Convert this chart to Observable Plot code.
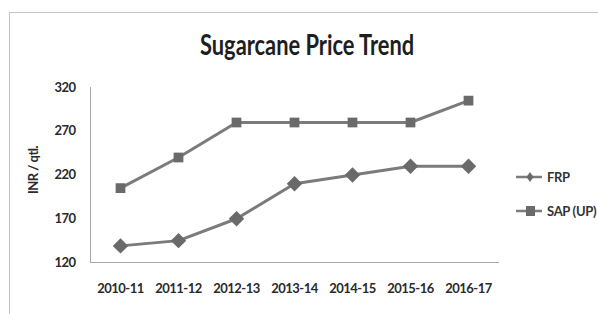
<!DOCTYPE html>
<html><head><meta charset="utf-8">
<script src="https://cdn.jsdelivr.net/npm/d3@7"></script>
<script src="https://cdn.jsdelivr.net/npm/@observablehq/plot@0.6"></script>
<style>
body{margin:0;background:#fff;}
#wrap{position:relative;width:598px;height:314px;overflow:hidden;font-family:Lato,"Open Sans",sans-serif;}
#border{position:absolute;left:9px;top:12px;width:620px;height:330px;border:1px solid #c4c4c4;}
#title{position:absolute;left:200px;top:27px;white-space:nowrap;font-size:28px;font-weight:bold;color:#1e1e1e;transform:scaleX(0.78);transform-origin:0 0;}
#chart{position:absolute;left:0;top:0;}
#legend{position:absolute;left:512px;top:167px;font-size:13px;font-weight:bold;color:#333;white-space:nowrap;letter-spacing:-0.3px;}
.li{display:flex;align-items:center;height:20px;margin-bottom:14px;}
.li svg{margin-right:3px;}
</style></head>
<body>
<div id="wrap"><div id="border"></div><div id="chart"></div><div id="title">Sugarcane Price Trend</div><div id="legend"></div></div>
<script>
const years = ["2010-11","2011-12","2012-13","2013-14","2014-15","2015-16","2016-17"];
const frp = [139,145,170,210,220,230,230];
const sap = [205,240,280,280,280,280,305];
const yTicks = [120,170,220,270,320];
const seriesNames = ["FRP","SAP (UP)"];

const data = [];
years.forEach((y,i)=>{data.push({year:y,value:frp[i],series:seriesNames[0]});data.push({year:y,value:sap[i],series:seriesNames[1]});});

const lineColor = "#7b7b7b", markColor = "#6a6a6a";
const font = 'Lato,"Open Sans",sans-serif';

const chart = Plot.plot({
  width:598, height:314,
  marginLeft:90, marginRight:100, marginTop:87, marginBottom:52,
  style:{fontFamily:font, fontSize:"13px", fontWeight:"bold", color:"#2a2a2a", background:"transparent", letterSpacing:"-0.5px"},
  x:{type:"point", domain:years, padding:0.5, label:null},
  y:{domain:[120,320], ticks:yTicks, label:null},
  marks:[
    Plot.frame({anchor:"left", stroke:"#a8a8a8"}),
    Plot.frame({anchor:"bottom", stroke:"#a8a8a8"}),
    Plot.axisY({ticks:yTicks, tickSize:0, tickPadding:15, tickFormat:d=>String(d), fontSize:13, label:null}),
    Plot.axisX({tickSize:0, tickPadding:21, fontSize:13, label:null}),
    Plot.text(["INR / qtl."], {frameAnchor:"left", textAnchor:"middle", dx:-57, dy:-5, rotate:-90, fontSize:13, fontWeight:"bold", fill:"#2a2a2a"}),
    Plot.line(data, {x:"year", y:"value", z:"series", stroke:lineColor, strokeWidth:3}),
    Plot.dot(data.filter(d=>d.series===seriesNames[1]), {x:"year", y:"value", symbol:"square", r:5.5, fill:markColor, stroke:"none"}),
    Plot.dot(data.filter(d=>d.series===seriesNames[0]), {x:"year", y:"value", symbol:"diamond2", r:6, fill:markColor, stroke:markColor, strokeWidth:1.5})
  ]
});
document.getElementById("chart").appendChild(chart);

const leg = document.getElementById("legend");
seriesNames.forEach((n,i)=>{
  const d = document.createElement("div"); d.className="li";
  const mark = i===0
    ? '<path d="M18,3 L21.5,8 L18,13 L14.5,8Z" fill="'+markColor+'"/>'
    : '<rect x="14" y="3" width="9" height="10" fill="'+markColor+'"/>';
  d.innerHTML = '<svg width="32" height="16"><line x1="4" x2="30" y1="8" y2="8" stroke="'+lineColor+'" stroke-width="2.5"/>'+mark+'</svg><span>'+n+'</span>';
  leg.appendChild(d);
});
</script>
</body></html>
